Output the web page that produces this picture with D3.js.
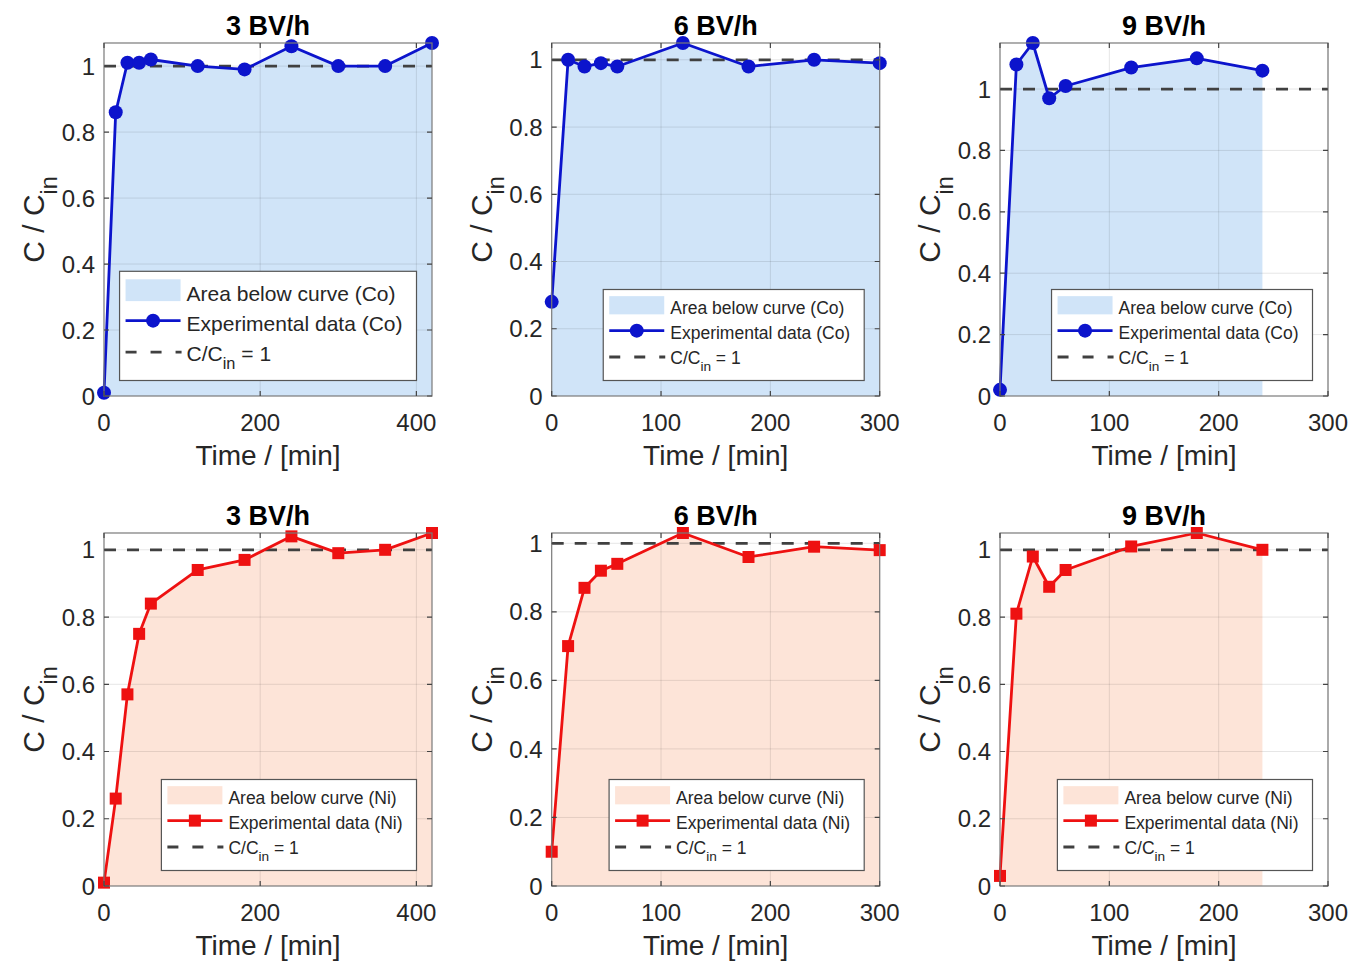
<!DOCTYPE html>
<html>
<head>
<meta charset="utf-8">
<script src="https://cdn.jsdelivr.net/npm/d3@7"></script>
<style>
	body { margin: 0; background: #fff; }
	svg { display: block; font-family: "Liberation Sans", Arial, Helvetica, sans-serif; }
</style>
</head>
<body>
<svg id="chart" width="1349" height="962"></svg>
<script>
/* global d3 */

// sampling times [min]
var time3 = [0, 15, 30, 45, 60, 120, 180, 240, 300, 360, 420],
	time6 = [0, 15, 30, 45, 60, 120, 180, 240, 300],
	time9 = [0, 15, 30, 45, 60, 120, 180, 240];

// C / Cin, cobalt
var co3 = [0.01, 0.86, 1.01, 1.01, 1.02, 1.00, 0.99, 1.06, 1.00, 1.00, 1.07],
	co6 = [0.28, 1.00, 0.98, 0.99, 0.98, 1.05, 0.98, 1.00, 0.99],
	co9 = [0.02, 1.08, 1.15, 0.97, 1.01, 1.07, 1.10, 1.06];

// C / Cin, nickel
var ni3 = [0.01, 0.26, 0.57, 0.75, 0.84, 0.94, 0.97, 1.04, 0.99, 1.00, 1.05],
	ni6 = [0.10, 0.70, 0.87, 0.92, 0.94, 1.03, 0.96, 0.99, 0.98],
	ni9 = [0.03, 0.81, 0.98, 0.89, 0.94, 1.01, 1.05, 1.00];

var titles = ["3 BV/h", "6 BV/h", "9 BV/h"],
	xMax = [420, 300, 300],
	xTicks3 = [0, 200, 400],
	xTicks69 = [0, 100, 200, 300],
	yTicks = [0, 0.2, 0.4, 0.6, 0.8, 1];

var metals = [
	{name: "Co", line: "#0c14cc", fill: "#d0e4f8", marker: "circle", times: [time3, time6, time9], values: [co3, co6, co9]},
	{name: "Ni", line: "#ee1111", fill: "#fde4d8", marker: "square", times: [time3, time6, time9], values: [ni3, ni6, ni9]}
];

var svg = d3.select("#chart"),
	colLeft = [104, 551.7, 1000],
	rowTop = [43, 533],
	pw = 328,
	ph = 353;

function subLabel(sel, pre, post, fs) {
	sel.append("tspan").text(pre);
	sel.append("tspan").attr("font-size", fs * 0.78).attr("dy", fs * 0.42).text("in");
	if (post) {
		sel.append("tspan").attr("dy", -fs * 0.42).text(post);
	}
}

function drawPanel(metal, col, row) {
	var left = colLeft[col],
		top = rowTop[row],
		times = metal.times[col],
		vals = metal.values[col],
		pts = times.map(function(t, i) { return [t, vals[i]]; }),
		x, y, g, area, line, xt, lg, legFs, lx, ly, lw, lh, texts;

	x = d3.scaleLinear().domain([0, xMax[col]]).range([left, left + pw]);
	y = d3.scaleLinear().domain([0, d3.max(vals)]).range([top + ph, top]);
	xt = col === 0 ? xTicks3 : xTicks69;

	g = svg.append("g");

	area = d3.area()
		.x(function(d) { return x(d[0]); })
		.y0(y(0))
		.y1(function(d) { return y(d[1]); });
	g.append("path").datum(pts)
		.attr("fill", metal.fill)
		.attr("d", area);

	// grid
	g.append("g").selectAll("line").data(xt.slice(1)).join("line")
		.attr("x1", function(d) { return x(d); }).attr("x2", function(d) { return x(d); })
		.attr("y1", top).attr("y2", top + ph)
		.attr("stroke", "#000").attr("stroke-opacity", 0.1);
	g.append("g").selectAll("line").data(yTicks.slice(1)).join("line")
		.attr("x1", left).attr("x2", left + pw)
		.attr("y1", function(d) { return y(d); }).attr("y2", function(d) { return y(d); })
		.attr("stroke", "#000").attr("stroke-opacity", 0.1);

	// C/Cin = 1
	g.append("line")
		.attr("x1", left).attr("x2", left + pw)
		.attr("y1", y(1)).attr("y2", y(1))
		.attr("stroke", "#404040").attr("stroke-width", 2.8)
		.attr("stroke-dasharray", "12,11");

	line = d3.line()
		.x(function(d) { return x(d[0]); })
		.y(function(d) { return y(d[1]); });
	g.append("path").datum(pts)
		.attr("fill", "none")
		.attr("stroke", metal.line)
		.attr("stroke-width", 2.8)
		.attr("stroke-linejoin", "round")
		.attr("d", line);

	if (metal.marker === "circle") {
		g.append("g").selectAll("circle").data(pts).join("circle")
			.attr("cx", function(d) { return x(d[0]); })
			.attr("cy", function(d) { return y(d[1]); })
			.attr("r", 7)
			.attr("fill", metal.line);
	} else {
		g.append("g").selectAll("rect").data(pts).join("rect")
			.attr("x", function(d) { return x(d[0]) - 6; })
			.attr("y", function(d) { return y(d[1]) - 6; })
			.attr("width", 12).attr("height", 12)
			.attr("fill", metal.line);
	}

	// box + ticks
	g.append("rect")
		.attr("x", left).attr("y", top).attr("width", pw).attr("height", ph)
		.attr("fill", "none").attr("stroke", "#7a7a7a").attr("stroke-width", 1.2);

	g.append("g").selectAll("path").data(xt).join("path")
		.attr("d", function(d) {
			return "M" + x(d) + "," + (top + ph) + "v-5M" + x(d) + "," + top + "v5";
		})
		.attr("stroke", "#444").attr("stroke-width", 1.2);
	g.append("g").selectAll("path").data(yTicks).join("path")
		.attr("d", function(d) {
			return "M" + left + "," + y(d) + "h5M" + (left + pw) + "," + y(d) + "h-5";
		})
		.attr("stroke", "#444").attr("stroke-width", 1.2);

	// tick labels
	g.append("g").selectAll("text").data(xt).join("text")
		.attr("x", function(d) { return x(d); })
		.attr("y", top + ph + 35)
		.attr("text-anchor", "middle")
		.attr("font-size", 24)
		.attr("fill", "#262626")
		.text(function(d) { return d; });
	g.append("g").selectAll("text").data(yTicks).join("text")
		.attr("x", left - 9)
		.attr("y", function(d) { return y(d); })
		.attr("dy", "0.36em")
		.attr("text-anchor", "end")
		.attr("font-size", 24)
		.attr("fill", "#262626")
		.text(function(d) { return d3.format("~g")(d); });

	// labels
	g.append("text")
		.attr("x", left + pw / 2).attr("y", top + ph + 69)
		.attr("text-anchor", "middle")
		.attr("font-size", 28)
		.attr("fill", "#262626")
		.text("Time / [min]");
	subLabel(g.append("text")
		.attr("transform", "translate(" + (left - 60) + "," + (top + ph / 2) + ") rotate(-90)")
		.attr("text-anchor", "middle")
		.attr("font-size", 30)
		.attr("fill", "#262626"), "C / C", "", 30);
	g.append("text")
		.attr("x", left + pw / 2).attr("y", top - 8)
		.attr("text-anchor", "middle")
		.attr("font-size", 27)
		.attr("font-weight", "bold")
		.text(titles[col]);

	// legend
	legFs = (col === 0 && row === 0) ? 21 : 17.5;
	lh = legFs * 5.2;
	lg = g.append("g");
	texts = ["Area below curve (" + metal.name + ")", "Experimental data (" + metal.name + ")"];
	var box = lg.append("rect").attr("fill", "#fff").attr("stroke", "#555").attr("stroke-width", 1.2);
	var rowsY = [0.9, 2.35, 3.8].map(function(k) { return k * legFs; });
	var tw = 0;
	var txtSel = lg.selectAll("text.lt").data(texts).join("text")
		.attr("class", "lt")
		.attr("x", 67)
		.attr("y", function(d, i) { return rowsY[i] + legFs * 0.5; })
		.attr("font-size", legFs)
		.attr("fill", "#262626")
		.text(function(d) { return d; });
	txtSel.each(function() { tw = Math.max(tw, this.getComputedTextLength()); });
	subLabel(lg.append("text")
		.attr("x", 67)
		.attr("y", rowsY[2] + legFs * 0.45)
		.attr("font-size", legFs)
		.attr("fill", "#262626"), "C/C", " = 1", legFs);
	lw = 67 + tw + 14;
	box.attr("width", lw).attr("height", lh);
	lg.append("rect")
		.attr("x", 6).attr("y", rowsY[0] - legFs * 0.52)
		.attr("width", 55).attr("height", legFs * 1.04)
		.attr("fill", metal.fill);
	lg.append("line")
		.attr("x1", 6).attr("x2", 61).attr("y1", rowsY[1]).attr("y2", rowsY[1])
		.attr("stroke", metal.line).attr("stroke-width", 2.8);
	if (metal.marker === "circle") {
		lg.append("circle").attr("cx", 33.5).attr("cy", rowsY[1]).attr("r", 7).attr("fill", metal.line);
	} else {
		lg.append("rect").attr("x", 27.5).attr("y", rowsY[1] - 6).attr("width", 12).attr("height", 12).attr("fill", metal.line);
	}
	lg.append("line")
		.attr("x1", 6).attr("x2", 62).attr("y1", rowsY[2] + 1).attr("y2", rowsY[2] + 1)
		.attr("stroke", "#404040").attr("stroke-width", 2.8)
		.attr("stroke-dasharray", "11,14");

	lx = left + pw - 15.5 - lw;
	ly = top + ph - 15.5 - lh;
	lg.attr("transform", "translate(" + lx + "," + ly + ")");
}

metals.forEach(function(m, row) {
	[0, 1, 2].forEach(function(col) { drawPanel(m, col, row); });
});
</script>
</body>
</html>
